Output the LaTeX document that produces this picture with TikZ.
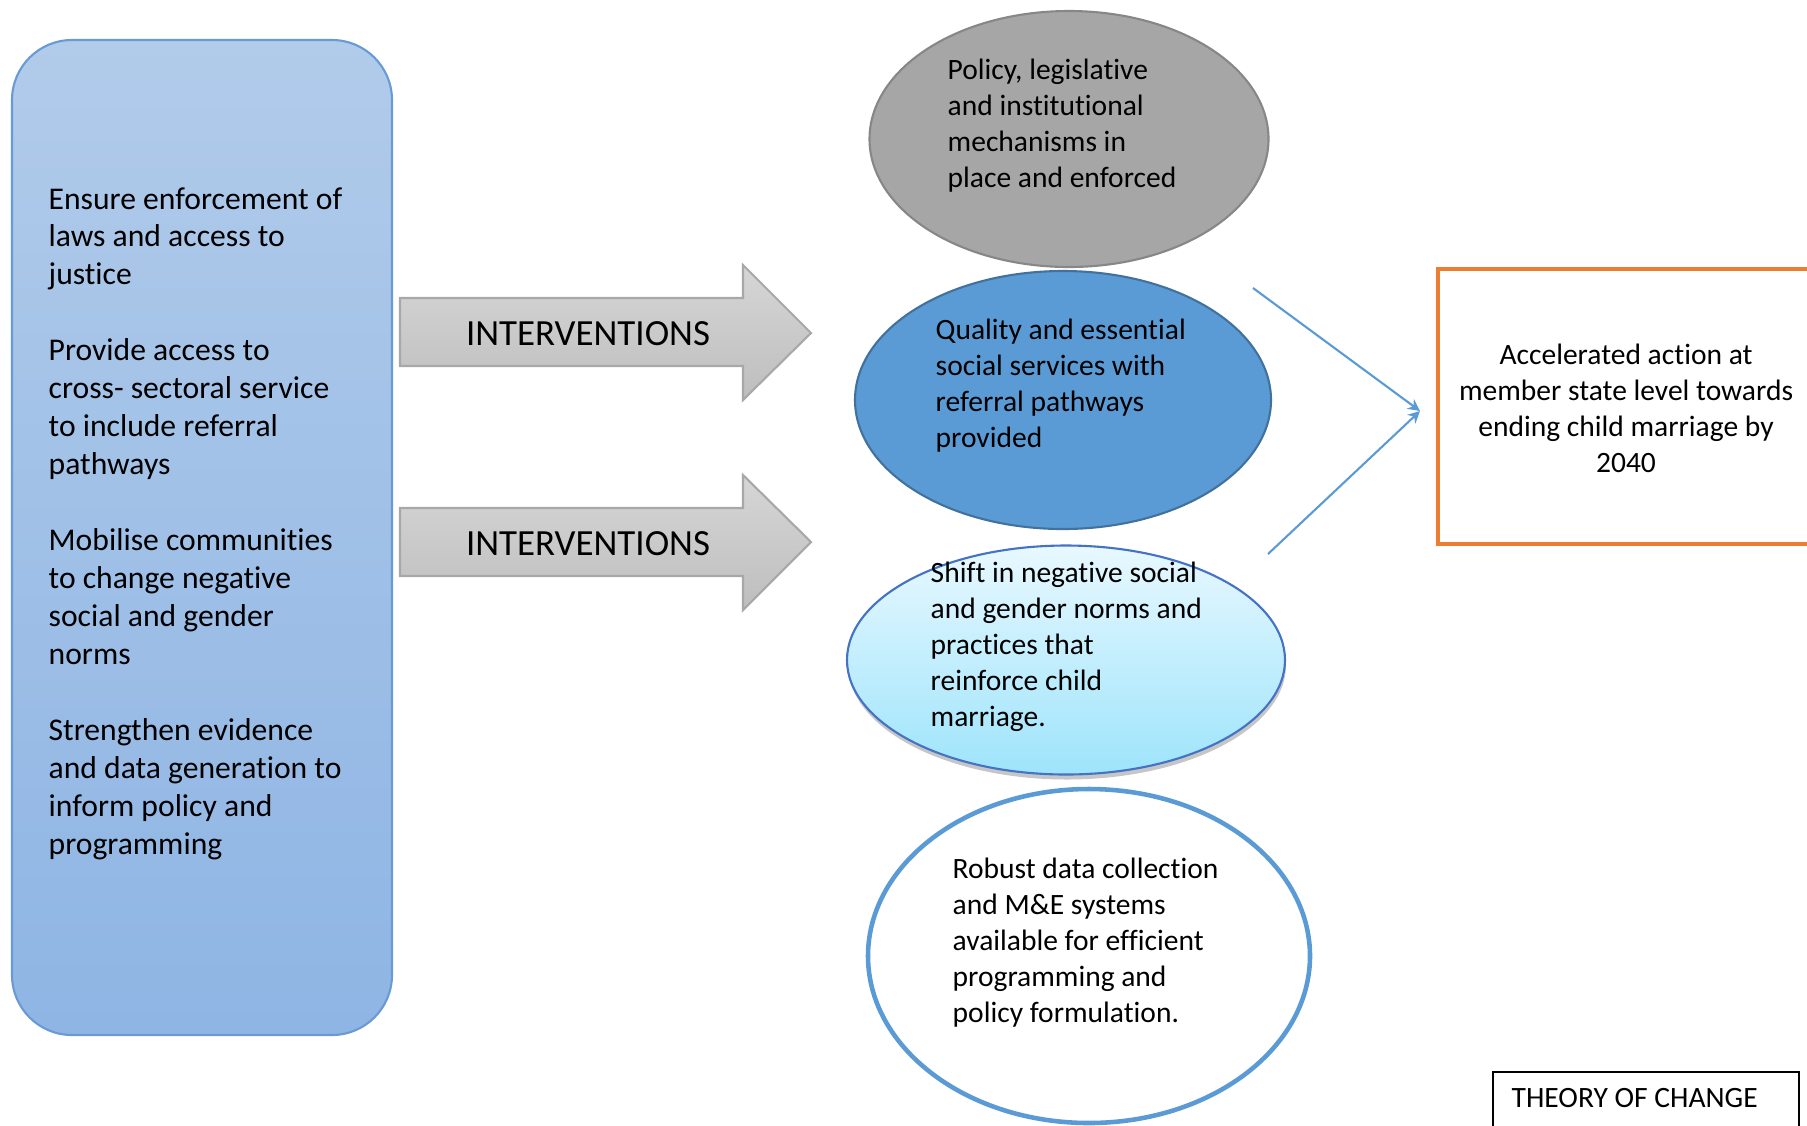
\documentclass[tikz,border=0pt]{standalone}
\usepackage{fontspec}
\setmainfont{Carlito}[Ligatures=NoCommon]
\usetikzlibrary{shapes.geometric,shadows,arrows.meta}

\definecolor{leftTop}{RGB}{177,203,234}
\definecolor{leftBot}{RGB}{142,181,228}
\definecolor{leftLine}{RGB}{106,154,212}
\definecolor{arrTop}{RGB}{214,214,214}
\definecolor{arrBot}{RGB}{190,190,190}
\definecolor{arrLine}{RGB}{168,168,168}
\definecolor{policyFill}{RGB}{166,166,166}
\definecolor{policyLine}{RGB}{135,135,135}
\definecolor{serviceFill}{RGB}{91,155,213}
\definecolor{serviceLine}{RGB}{65,113,156}
\definecolor{normTop}{RGB}{232,248,255}
\definecolor{normBot}{RGB}{158,228,251}
\definecolor{normLine}{RGB}{68,114,196}
\definecolor{linkBlue}{RGB}{91,155,213}
\definecolor{goalLine}{RGB}{237,125,49}

\begin{document}
\begin{tikzpicture}
\tikzstyle{every node}+=[inner sep=0pt]
\tikzstyle{oval}=[ellipse, draw, line width=0.6pt]
\tikzstyle{ovaltext}=[font=\fontsize{8.4}{10.24}\selectfont, align=left, anchor=west]
\tikzstyle{intarrow}=[top color=arrTop, bottom color=arrBot, draw=arrLine, line width=0.6pt]
\tikzstyle{inttext}=[font=\fontsize{10.5}{12.6}\selectfont]
\useasboundingbox (0,0) rectangle (18.07,-11.25);

\node[rectangle, rounded corners=0.6cm, minimum width=3.80cm, minimum height=9.95cm,
  top color=leftTop, bottom color=leftBot, draw=leftLine, line width=0.6pt] (actions) at (2.02,-5.375) {};
\node[font=\fontsize{9}{10.8}\selectfont, align=left, anchor=west] (actionstxt) at (0.48,-5.235)
  {Ensure enforcement of\\laws and access to\\justice\\[10.8pt]
   Provide access to\\cross- sectoral service\\to include referral\\pathways\\[10.8pt]
   Mobilise communities\\to change negative\\social and gender\\norms\\[10.8pt]
   Strengthen evidence\\and data generation to\\inform policy and\\programming};

\path[intarrow] (4.00,-2.98) -- (7.43,-2.98) -- (7.43,-2.65) -- (8.11,-3.33)
  -- (7.43,-4.00) -- (7.43,-3.66) -- (4.00,-3.66) -- cycle;
\node[inttext] (int1) at (5.88,-3.34) {INTERVENTIONS};
\path[intarrow] (4.00,-5.08) -- (7.43,-5.08) -- (7.43,-4.75) -- (8.11,-5.42)
  -- (7.43,-6.10) -- (7.43,-5.76) -- (4.00,-5.76) -- cycle;
\node[inttext] (int2) at (5.88,-5.44) {INTERVENTIONS};

\node[oval, fill=policyFill, draw=policyLine, minimum width=3.99cm, minimum height=2.56cm] (policy) at (10.69,-1.39) {};
\node[ovaltext] (policytxt) at (9.47,-1.255) {Policy, legislative\\and institutional\\mechanisms in\\place and enforced};

\node[oval, fill=serviceFill, draw=serviceLine, minimum width=4.16cm, minimum height=2.58cm] (service) at (10.63,-4.00) {};
\node[ovaltext] (servicetxt) at (9.35,-3.855) {Quality and essential\\social services with\\referral pathways\\provided};

\node[oval, top color=normTop, bottom color=normBot, draw=normLine, minimum width=4.38cm, minimum height=2.29cm,
  drop shadow={shadow xshift=0.01cm, shadow yshift=-0.05cm, opacity=0.45}] (norms) at (10.66,-6.60) {};
\node[ovaltext] (normstxt) at (9.30,-6.47) {Shift in negative social\\and gender norms and\\practices that\\reinforce child\\marriage.};

\node[oval, fill=white, draw=linkBlue, line width=1.3pt, minimum width=4.42cm, minimum height=3.34cm] (data) at (10.89,-9.56) {};
\node[ovaltext] (datatxt) at (9.52,-9.43) {Robust data collection\\and M\&E systems\\available for efficient\\programming and\\policy formulation.};

\node[rectangle, draw=goalLine, line width=1.3pt, minimum width=3.95cm, minimum height=2.75cm] (goal) at (16.355,-4.065) {};
\node[font=\fontsize{8.4}{10.24}\selectfont, align=center] (goaltxt) at (16.26,-4.08)
  {Accelerated action at\\member state level towards\\ending child marriage by\\2040};

\coordinate (linkA) at (12.53,-2.88);
\coordinate (linkB) at (12.68,-5.54);
\coordinate (goalin) at (14.20,-4.11);
\draw[linkBlue, line width=0.6pt, -{Stealth[length=1.2mm, width=1.2mm]}] (linkA) -- (goalin);
\draw[linkBlue, line width=0.6pt, -{Stealth[length=1.2mm, width=1.2mm]}] (linkB) -- (goalin);

\node[rectangle, draw, line width=0.7pt, minimum width=3.06cm, minimum height=0.8cm, anchor=north west] (toc) at (14.92,-10.71) {};
\node[font=\fontsize{8.4}{10.24}\selectfont, anchor=west] (toctxt) at (15.11,-10.98) {THEORY OF CHANGE};
\end{tikzpicture}
\end{document}
